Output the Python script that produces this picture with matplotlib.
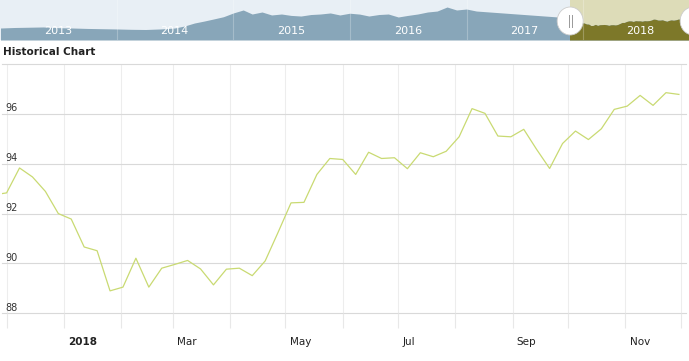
import numpy as np
import pandas as pd
import matplotlib
matplotlib.use('Agg')
import matplotlib.pyplot as plt
import matplotlib.dates as mdates
from matplotlib.patches import Ellipse, Rectangle
from matplotlib.transforms import ScaledTranslation

plt.rcParams['font.family'] = ['DejaVu Sans']

# weekly closes, main chart
start_week = '2017-11-24'
values = [92.75, 92.83, 93.83, 93.47, 92.89, 92.00, 91.78, 90.66, 90.51, 88.90,
          89.05, 90.21, 89.05, 89.81, 89.96, 90.12, 89.78, 89.14, 89.77, 89.81,
          89.51, 90.10, 91.25, 92.43, 92.45, 93.57, 94.21, 94.17, 93.57, 94.46,
          94.21, 94.24, 93.80, 94.44, 94.28, 94.50, 95.08, 96.21, 96.02, 95.11,
          95.08, 95.38, 94.57, 93.81, 94.81, 95.31, 94.97, 95.40, 96.18, 96.31,
          96.74, 96.34, 96.85, 96.78]
y_gridlines = [88, 90, 92, 94, 96, 98]
y_labels = [88, 90, 92, 94, 96]
x_label_months = ['2018-01-01', '2018-03-01', '2018-05-01', '2018-07-01', '2018-09-01', '2018-11-01']
x_label_text = ['2018', 'Mar', 'May', 'Jul', 'Sep', 'Nov']

# navigator (history before the selection)
nav_dates = ['2013-01-01', '2013-02-15', '2013-04-01', '2013-05-15', '2013-07-01', '2013-08-15',
             '2013-10-01', '2013-11-15', '2014-01-01', '2014-02-15', '2014-04-01', '2014-05-15',
             '2014-07-01', '2014-08-01', '2014-09-01', '2014-10-01', '2014-11-01', '2014-12-01',
             '2015-01-01', '2015-02-01', '2015-03-01', '2015-04-01', '2015-05-01', '2015-06-01',
             '2015-07-01', '2015-08-01', '2015-09-01', '2015-10-01', '2015-11-01', '2015-12-01',
             '2016-01-01', '2016-02-01', '2016-03-01', '2016-04-01', '2016-05-01', '2016-06-01',
             '2016-07-01', '2016-08-01', '2016-09-01', '2016-10-01', '2016-11-01', '2016-12-01',
             '2017-01-01', '2017-02-01', '2017-10-15']
nav_vals = [86.1, 86.7, 87.0, 87.3, 86.5, 86.1, 85.6, 85.3, 85.0, 84.6, 84.4, 85.0,
            86.1, 88.4, 91.8, 94.0, 96.5, 99.0, 103.3, 106.7, 102.1, 104.4, 101.0, 102.1,
            100.5, 99.8, 101.5, 102.1, 103.3, 101.0, 103.0, 102.0, 99.8, 101.5, 102.1, 98.7,
            100.5, 102.1, 104.4, 105.5, 110.1, 106.7, 107.8, 105.5, 98.7]
nav_years = ['2013', '2014', '2015', '2016', '2017', '2018']
sel_start, sel_end = '2017-11-22', '2018-11-30'

line_col = '#c9da72'
fig = plt.figure(figsize=(6.89, 3.61), dpi=100)

# ---------------- main chart
W, H = 689., 361.
ax = fig.add_axes([2 / W, (H - 313.3) / H, 684 / W, 249.3 / H])
dates = pd.date_range(start_week, periods=len(values), freq='7D')
ax.plot(dates, values, color=line_col, lw=0.9, zorder=3)

d0 = mdates.date2num(pd.Timestamp('2017-12-01'))
ppd = 1.847
ax.set_xlim(d0 - 4.6 / ppd, d0 + (686 - 6.6) / ppd)
ax.set_ylim(88, 98)
for s in ax.spines.values():
    s.set_visible(False)

for v in y_gridlines:
    ax.axhline(v, color='#d9d9d9', lw=0.8, zorder=1, clip_on=False)
months = pd.date_range('2017-12-01', '2018-12-01', freq='MS')
ax.set_xticks(months)
ax.set_xticklabels([])
ax.tick_params(axis='x', length=11, width=0.8, color='#e8e8e8', direction='out')
ax.set_yticks([])
for m in months:
    ax.axvline(m, color='#ededed', lw=0.8, zorder=0)

up = ScaledTranslation(0, 1.8 / 72, fig.dpi_scale_trans)
for v in y_labels:
    ax.text(3 / 684, v, str(v), transform=ax.get_yaxis_transform() + up,
            fontsize=7, color='#333333', ha='left', va='baseline')

right = ScaledTranslation(3 / 72, 0, fig.dpi_scale_trans)
for m, t in zip(x_label_months, x_label_text):
    ax.text(pd.Timestamp(m), -0.115, t, transform=ax.get_xaxis_transform() + right,
            fontsize=7.5, color='#222222', ha='left', va='center',
            fontweight='bold' if t == '2018' else 'normal')

fig.text(3 / W, 1 - 52 / H, 'Historical Chart', fontsize=7.5, fontweight='bold',
         color='#222222', ha='left', va='center')

# ---------------- navigator
nav = fig.add_axes([0, 1 - 40 / H, 1, 40 / H])
nav.set_facecolor('#e8eff5')
for s in nav.spines.values():
    s.set_visible(False)
nav.set_xticks([])
nav.set_yticks([])

nd = list(pd.to_datetime(nav_dates)) + list(dates)
nv = list(nav_vals) + list(values)
n0 = mdates.date2num(pd.Timestamp('2013-01-01'))
nppd = 116.5 / 365.25
nav.set_xlim(n0 - 0.5 / nppd, n0 + 688.5 / nppd)
lo = 72.4
nav.set_ylim(lo, lo + 40 / 0.875)

s0 = mdates.date2num(pd.Timestamp(sel_start))
s1 = mdates.date2num(pd.Timestamp(sel_end)) + 10
nav.axvspan(s0, s1, color='#dddcb8', lw=0, zorder=0.5)
nav.fill_between(nd, nv, lo, color='#88a6b9', lw=0, zorder=1)
olive = nav.fill_between(nd, nv, lo, color='#7d7829', lw=0, zorder=2)
clip = Rectangle((s0, lo), s1 - s0, 60, transform=nav.transData)
olive.set_clip_path(clip)

for i, yr in enumerate(nav_years):
    if i > 0:
        nav.axvline(pd.Timestamp(yr + '-01-01'), color='white', alpha=0.25, lw=0.8, zorder=3)
    nav.text(pd.Timestamp(yr + '-07-01'), 0.22, yr, transform=nav.get_xaxis_transform(),
             color='white', fontsize=8, ha='center', va='center', zorder=4)

# selection handles
hw = 26 / nppd
hh = 28 / 0.875
hy = lo + 19 / 0.875
for hx in [s0, s1 - 10 + 4 / nppd]:
    nav.add_patch(Ellipse((hx, hy), hw, hh, facecolor='white', edgecolor='#cccccc',
                          lw=0.6, zorder=5, clip_on=False))
    for dx in [-1.5, 1.5]:
        nav.plot([hx + dx / nppd] * 2, [hy - 6 / 0.875, hy + 6 / 0.875],
                 color='#999999', lw=0.7, zorder=6)

fig.savefig('out.png', dpi=100)
